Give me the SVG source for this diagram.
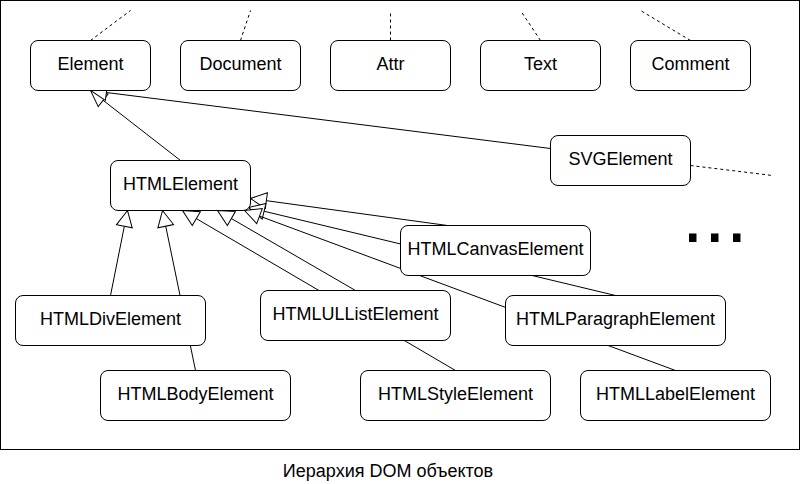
<svg xmlns="http://www.w3.org/2000/svg" width="801" height="484" viewBox="0 0 801 484">
<style>
.node rect{fill:#fff;stroke:#000;stroke-width:1}
.node text,.lbl{font-family:"Liberation Sans",Arial,sans-serif;font-size:18px;fill:#000;text-anchor:middle}
.conn path{fill:none;stroke:#000;stroke-width:1}
.conn path.inh{marker-end:url(#hollow)}
.conn path.dash{stroke-dasharray:3 3}
</style>
<defs>
<marker id="hollow" markerUnits="userSpaceOnUse" markerWidth="18" markerHeight="18" refX="16" refY="8" orient="auto" overflow="visible">
<path d="M0,0 L16,8 L0,16 Z" fill="#fff" stroke="#000" stroke-width="1"/>
</marker>
</defs>
<rect x="0.5" y="0.5" width="799" height="449" fill="#fff" stroke="#000" stroke-width="1"/>
<g id="connectors" class="conn" transform="translate(0.5,0.5)">
<path class="dash" d="M90,40 L130,10"/>
<path class="dash" d="M240,40 L250,10"/>
<path class="dash" d="M390,40 L390,10"/>
<path class="dash" d="M540,40 L520,10"/>
<path class="dash" d="M690,40 L640,10"/>
<path class="dash" d="M690,165 L772,175"/>
<path class="inh" d="M180,160 L90,90"/>
<path class="inh" d="M550,148 L90,90"/>
<path class="inh" d="M110,295 L127,210"/>
<path class="inh" d="M195,370 L162,210"/>
<path class="inh" d="M455,370 L182,210"/>
<path class="inh" d="M355,290 L217,210"/>
<path class="inh" d="M447,225 L250,198"/>
<path class="inh" d="M615,295 L248,207"/>
<path class="inh" d="M675,370 L244,210"/>
</g>
<g transform="translate(0.5,0.5)">
<g id="element" class="node"><rect x="30" y="40" width="120" height="50" rx="7.5"/><text x="90" y="69.5">Element</text></g>
<g id="document" class="node"><rect x="180" y="40" width="120" height="50" rx="7.5"/><text x="240" y="69.5">Document</text></g>
<g id="attr" class="node"><rect x="330" y="40" width="120" height="50" rx="7.5"/><text x="390" y="69.5">Attr</text></g>
<g id="text" class="node"><rect x="480" y="40" width="120" height="50" rx="7.5"/><text x="540" y="69.5">Text</text></g>
<g id="comment" class="node"><rect x="630" y="40" width="120" height="50" rx="7.5"/><text x="690" y="69.5">Comment</text></g>
<g id="svgelement" class="node"><rect x="550" y="135" width="140" height="50" rx="7.5"/><text x="620" y="164.5">SVGElement</text></g>
<g id="htmlelement" class="node"><rect x="110" y="160" width="140" height="50" rx="7.5"/><text x="180" y="189.5">HTMLElement</text></g>
<g id="htmlcanvaselement" class="node"><rect x="400" y="225" width="190" height="50" rx="7.5"/><text x="495" y="254.5">HTMLCanvasElement</text></g>
<g id="htmldivelement" class="node"><rect x="15" y="295" width="190" height="50" rx="7.5"/><text x="110" y="324.5">HTMLDivElement</text></g>
<g id="htmlulistelement" class="node"><rect x="260" y="290" width="190" height="50" rx="7.5"/><text x="355" y="319.5">HTMLULListElement</text></g>
<g id="htmlparagraphelement" class="node"><rect x="505" y="295" width="220" height="50" rx="7.5"/><text x="615" y="324.5">HTMLParagraphElement</text></g>
<g id="htmlbodyelement" class="node"><rect x="100" y="370" width="190" height="50" rx="7.5"/><text x="195" y="399.5">HTMLBodyElement</text></g>
<g id="htmlstyleelement" class="node"><rect x="360" y="370" width="190" height="50" rx="7.5"/><text x="455" y="399.5">HTMLStyleElement</text></g>
<g id="htmllabelelement" class="node"><rect x="580" y="370" width="190" height="50" rx="7.5"/><text x="675" y="399.5">HTMLLabelElement</text></g>
</g>
<text x="681.8" y="242" style="font-family:'Liberation Sans',Arial,sans-serif;font-size:79px;fill:#000">...</text>
<text class="lbl" x="388" y="476.5">Иерархия DOM объектов</text>
</svg>
